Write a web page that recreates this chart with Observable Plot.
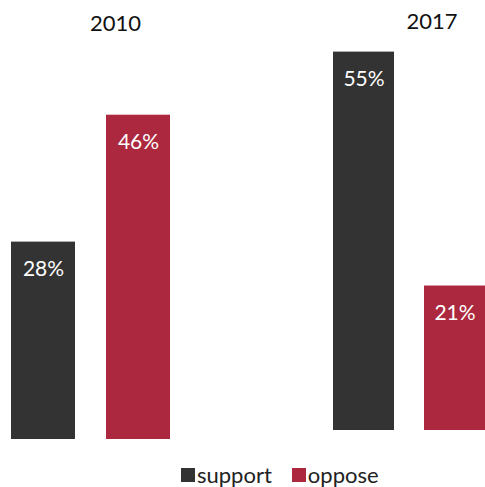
<!DOCTYPE html>
<html>
<head>
<meta charset="utf-8">
<script src="https://cdn.jsdelivr.net/npm/d3@7"></script>
<script src="https://cdn.jsdelivr.net/npm/@observablehq/plot@0.6"></script>
<style>
  html, body { margin: 0; padding: 0; background: #fff; overflow: hidden; }
  #wrap { position: relative; width: 485px; height: 487px; font-family: Lato, "Open Sans", sans-serif; }
  #wrap svg { position: absolute; left: 0; top: 0; background: transparent; }
  #legend { position: absolute; left: 181px; top: 464px; height: 22px; line-height: 22px; display: flex; justify-content: flex-start; gap: 20px; font-size: 22px; color: #222; }
  #legend span.item { display: flex; align-items: center; }
  #legend span.sw { display: inline-block; width: 14px; height: 14px; margin-right: 2px; }
</style>
</head>
<body>
<div id="wrap"></div>
<script>
const years = ["2010", "2017"];
const responses = ["support", "oppose"];
const values2010 = [28, 46];
const values2017 = [55, 21];
const colors = ["#333333", "#ab283e"];

const wrap = document.getElementById("wrap");
const font = "Lato, 'Open Sans', sans-serif";

function panel(year, values, xRange, yRange, yDomain, yearDy) {
  const rows = responses.map((r, i) => ({year, response: r, value: values[i]}));
  return Plot.plot({
    width: 485,
    height: 455,
    margin: 0,
    style: {fontFamily: font, background: "transparent"},
    x: {type: "band", domain: responses, range: xRange, paddingInner: 0.33, paddingOuter: 0, axis: null},
    y: {domain: yDomain, range: yRange, axis: null},
    color: {domain: responses, range: colors},
    marks: [
      Plot.barY(rows, {x: "response", y: "value", fill: "response"}),
      Plot.text(rows, {x: "response", y: "value", text: d => d.value + "%", fill: "white", fontSize: 21, dy: 27, lineAnchor: "middle"}),
      Plot.text([year], {x: () => "oppose", text: d => d, frameAnchor: "top", lineAnchor: "middle", dy: yearDy, dx: -23, fontSize: 22, fill: "#111"})
    ]
  });
}

wrap.appendChild(panel(years[0], values2010, [11, 170], [439, 86.5], [0, 50], 23));
wrap.appendChild(panel(years[1], values2017, [332, 485], [430, 17.2], [0, 60], 21));

const legend = document.createElement("div");
legend.id = "legend";
responses.forEach((r, i) => {
  const item = document.createElement("span");
  item.className = "item";
  const sw = document.createElement("span");
  sw.className = "sw";
  sw.style.background = colors[i];
  item.appendChild(sw);
  item.appendChild(document.createTextNode(r));
  legend.appendChild(item);
});
wrap.appendChild(legend);
</script>
</body>
</html>
